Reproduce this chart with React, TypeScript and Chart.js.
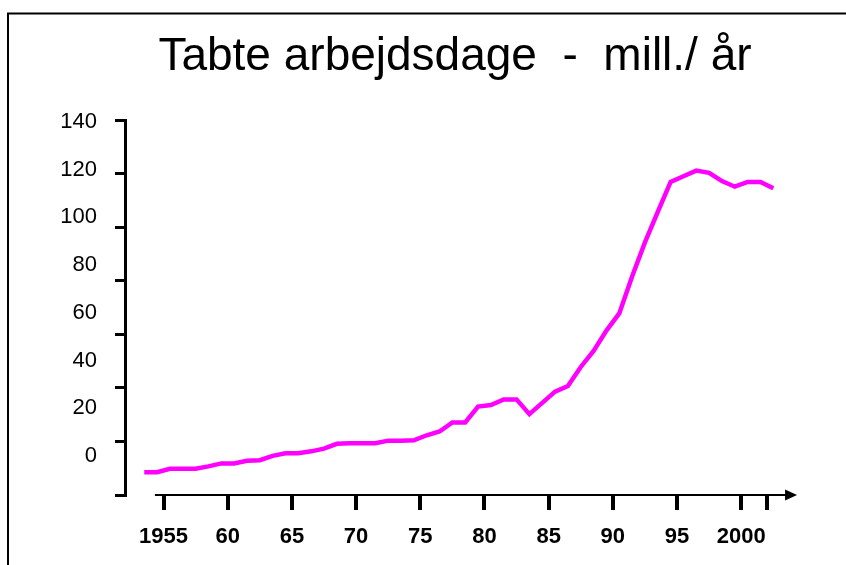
import { useEffect, useRef } from "react";
import { Chart, registerables } from "chart.js";

Chart.register(...registerables);

// ---- data ----
const years = [
  1953, 1954, 1955, 1956, 1957, 1958, 1959, 1960, 1961, 1962,
  1963, 1964, 1965, 1966, 1967, 1968, 1969, 1970, 1971, 1972,
  1973, 1974, 1975, 1976, 1977, 1978, 1979, 1980, 1981, 1982,
  1983, 1984, 1985, 1986, 1987, 1988, 1989, 1990, 1991, 1992,
  1993, 1994, 1995, 1996, 1997, 1998, 1999, 2000, 2001, 2002,
];
const lostDays = [
  8.5, 8.5, 9.8, 9.8, 9.8, 10.7, 11.8, 11.8, 12.8, 13.0,
  14.6, 15.6, 15.6, 16.3, 17.3, 19.1, 19.3, 19.3, 19.3, 20.3,
  20.3, 20.4, 22.3, 23.7, 27.1, 27.1, 33.0, 33.6, 35.7, 35.7,
  30.2, 34.4, 38.6, 40.7, 47.8, 53.8, 61.4, 67.8, 81.6, 94.3,
  105.7, 116.9, 119.0, 121.1, 120.3, 117.2, 115.1, 116.9, 116.9, 114.5,
];
const yTickValues = [0, 20, 40, 60, 80, 100, 120, 140];
const xTickYears = [1955, 1960, 1965, 1970, 1975, 1980, 1985, 1990, 1995, 2000];
const xTickLabels = ["1955", "60", "65", "70", "75", "80", "85", "90", "95", "2000"];
const xExtraTickYear = 2002;
const titleText = "Tabte arbejdsdage  -  mill./ år";

const FONT = "'Liberation Sans', Arial, Helvetica, sans-serif";

export default function App() {
  const ref = useRef<HTMLCanvasElement | null>(null);

  useEffect(() => {
    if (!ref.current) return;

    const decorations = {
      id: "decorations",
      afterDraw(chart: any) {
        const { ctx, chartArea, scales } = chart;
        ctx.save();
        // frame (top + left)
        ctx.strokeStyle = "#000";
        ctx.lineWidth = 2;
        ctx.beginPath();
        ctx.moveTo(8, 570);
        ctx.lineTo(8, 13.5);
        ctx.lineTo(850, 13.5);
        ctx.stroke();
        // x-axis line with arrow
        const xs = scales.x;
        const yb = chartArea.bottom;
        const x0 = xs.getPixelForValue(1953.83);
        const xEnd = xs.getPixelForValue(2003.85);
        ctx.lineWidth = 2;
        ctx.beginPath();
        ctx.moveTo(x0, yb);
        ctx.lineTo(xEnd - 8, yb);
        ctx.stroke();
        ctx.fillStyle = "#000";
        ctx.beginPath();
        ctx.moveTo(xEnd, yb);
        ctx.lineTo(xEnd - 12, yb - 5.5);
        ctx.lineTo(xEnd - 12, yb + 5.5);
        ctx.closePath();
        ctx.fill();
        ctx.restore();
      },
    };

    const xTickPositions = [...xTickYears, xExtraTickYear].map((y) => y - 0.5);

    const chart = new Chart(ref.current, {
      type: "line",
      data: {
        datasets: [
          {
            data: years.map((y, i) => ({ x: y, y: lostDays[i] })),
            borderColor: "#FF00FF",
            backgroundColor: "#FF00FF",
            borderWidth: 4.5,
            pointRadius: 0,
            tension: 0,
            fill: false,
            yAxisID: "y",
          },
        ],
      },
      options: {
        responsive: false,
        animation: false,
        devicePixelRatio: 1,
        layout: { padding: { left: 40, right: 61, top: 0, bottom: 0 } },
        plugins: {
          legend: { display: false },
          tooltip: { enabled: false },
          title: {
            display: true,
            fullSize: false,
            text: titleText,
            color: "#000",
            font: { family: FONT, size: 46, weight: "normal", lineHeight: 1.2 },
            padding: { top: 29.8, bottom: 35.0 },
          },
        },
        scales: {
          x: {
            type: "linear",
            min: 1951.5,
            max: 2002.91,
            afterBuildTicks: (scale: any) => {
              scale.ticks = xTickPositions.map((v) => ({ value: v }));
            },
            afterFit: (scale: any) => {
              scale.height = 70;
            },
            border: { display: false },
            grid: {
              drawOnChartArea: false,
              drawTicks: true,
              tickLength: 15,
              lineWidth: 4,
              color: "#000",
            },
            ticks: {
              autoSkip: false,
              maxRotation: 0,
              minRotation: 0,
              padding: 14,
              color: "#000",
              font: { family: FONT, size: 22, weight: "bold" },
              callback: (_v: any, i: number) => xTickLabels[i] ?? "",
            },
          },
          y: {
            type: "linear",
            position: "left",
            weight: 0,
            min: 0,
            max: 140,
            afterBuildTicks: (scale: any) => {
              scale.ticks = yTickValues.map((v) => ({ value: v }));
            },
            afterFit: (scale: any) => {
              scale.width = 10;
            },
            border: { display: true, color: "#000", width: 3 },
            grid: {
              drawOnChartArea: false,
              drawTicks: true,
              tickLength: 10,
              lineWidth: 3,
              color: "#000",
            },
            ticks: { display: false },
          },
          yl: {
            type: "linear",
            position: "left",
            weight: 1,
            min: -16.35,
            max: 140.84,
            afterBuildTicks: (scale: any) => {
              scale.ticks = yTickValues.map((v) => ({ value: v }));
            },
            afterFit: (scale: any) => {
              scale.width = 75;
            },
            border: { display: false },
            grid: { display: false, drawTicks: false },
            ticks: {
              padding: 18,
              color: "#000",
              font: { family: FONT, size: 22, weight: "normal" },
              callback: (v: any) => String(v),
            },
          },
        },
      },
      plugins: [decorations],
    });

    return () => chart.destroy();
  }, []);

  return (
    <div
      style={{
        position: "fixed",
        left: 0,
        top: 0,
        width: 846,
        height: 565,
        background: "#fff",
        overflow: "hidden",
      }}
    >
      <canvas ref={ref} width={846} height={565} style={{ display: "block", width: 846, height: 565 }} />
    </div>
  );
}
